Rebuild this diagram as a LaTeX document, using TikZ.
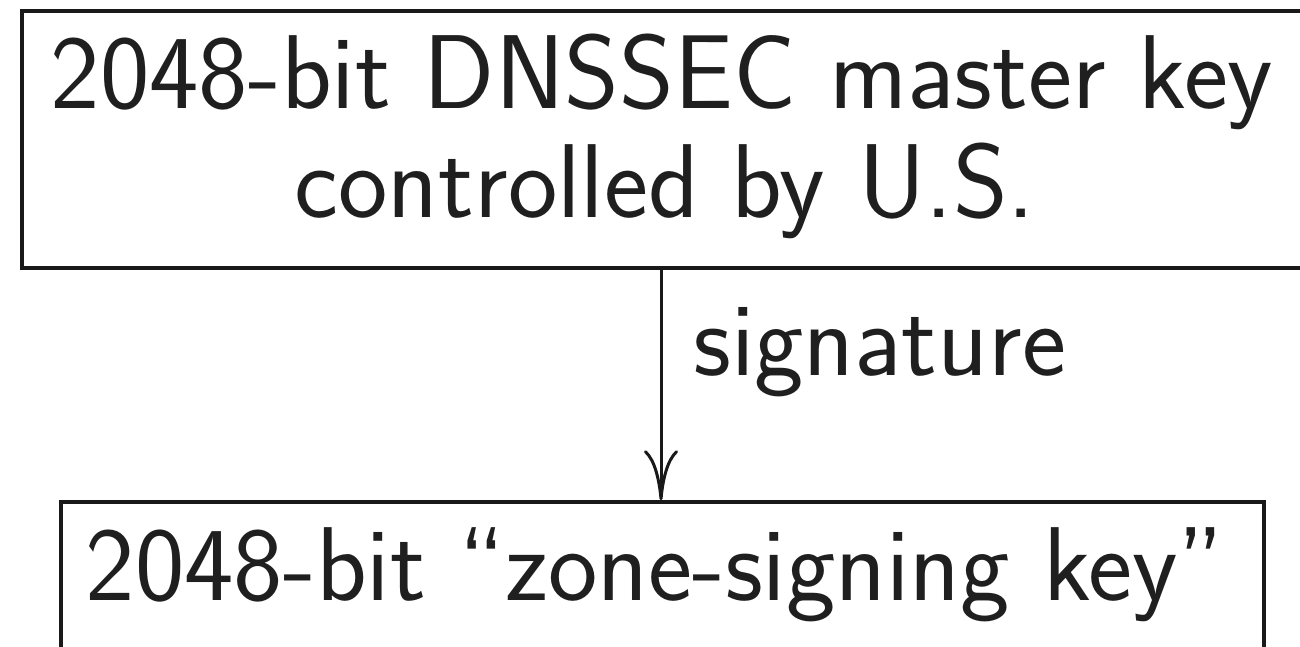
\documentclass[tikz,border=0pt]{standalone}
\usetikzlibrary{arrows.meta}
\begin{document}
\begin{tikzpicture}[x=1pt,y=1pt,
  boxstyle/.style={draw=black!90,line width=3.5pt,inner sep=0pt},
  txt/.style={inner sep=0pt,anchor=base,text=black!88,font=\fontsize{105}{110}\selectfont\sffamily},
  conn/.style={line width=3pt,draw=black!90,-{Computer Modern Rightarrow[length=50pt,width=34pt,line width=3pt]}}]
\useasboundingbox (0,0) rectangle (1300,-647);
\begin{scope}
\clip (0,0) rectangle (1300,-647);
\node[boxstyle,minimum width=1290pt,minimum height=257pt] (topbox) at (667,-139.5) {};
\node[boxstyle,minimum width=1203pt,minimum height=250pt] (botbox) at (662.5,-627) {};
\end{scope}
\node[txt] (t1) at (662,-109) {2048-bit DNSSEC master key};
\node[txt] (t2) at (665,-218) {controlled by U.S.};
\node[txt,anchor=base west] (sig) at (693,-375) {signature};
\node[txt] (b1) at (655,-600) {2048-bit ``zone-signing key''};
\coordinate (a0) at (topbox.south -| 661,0);
\coordinate (a1) at (botbox.north -| 661,0);
\draw[conn] (a0) -- (a1);
\end{tikzpicture}
\end{document}
